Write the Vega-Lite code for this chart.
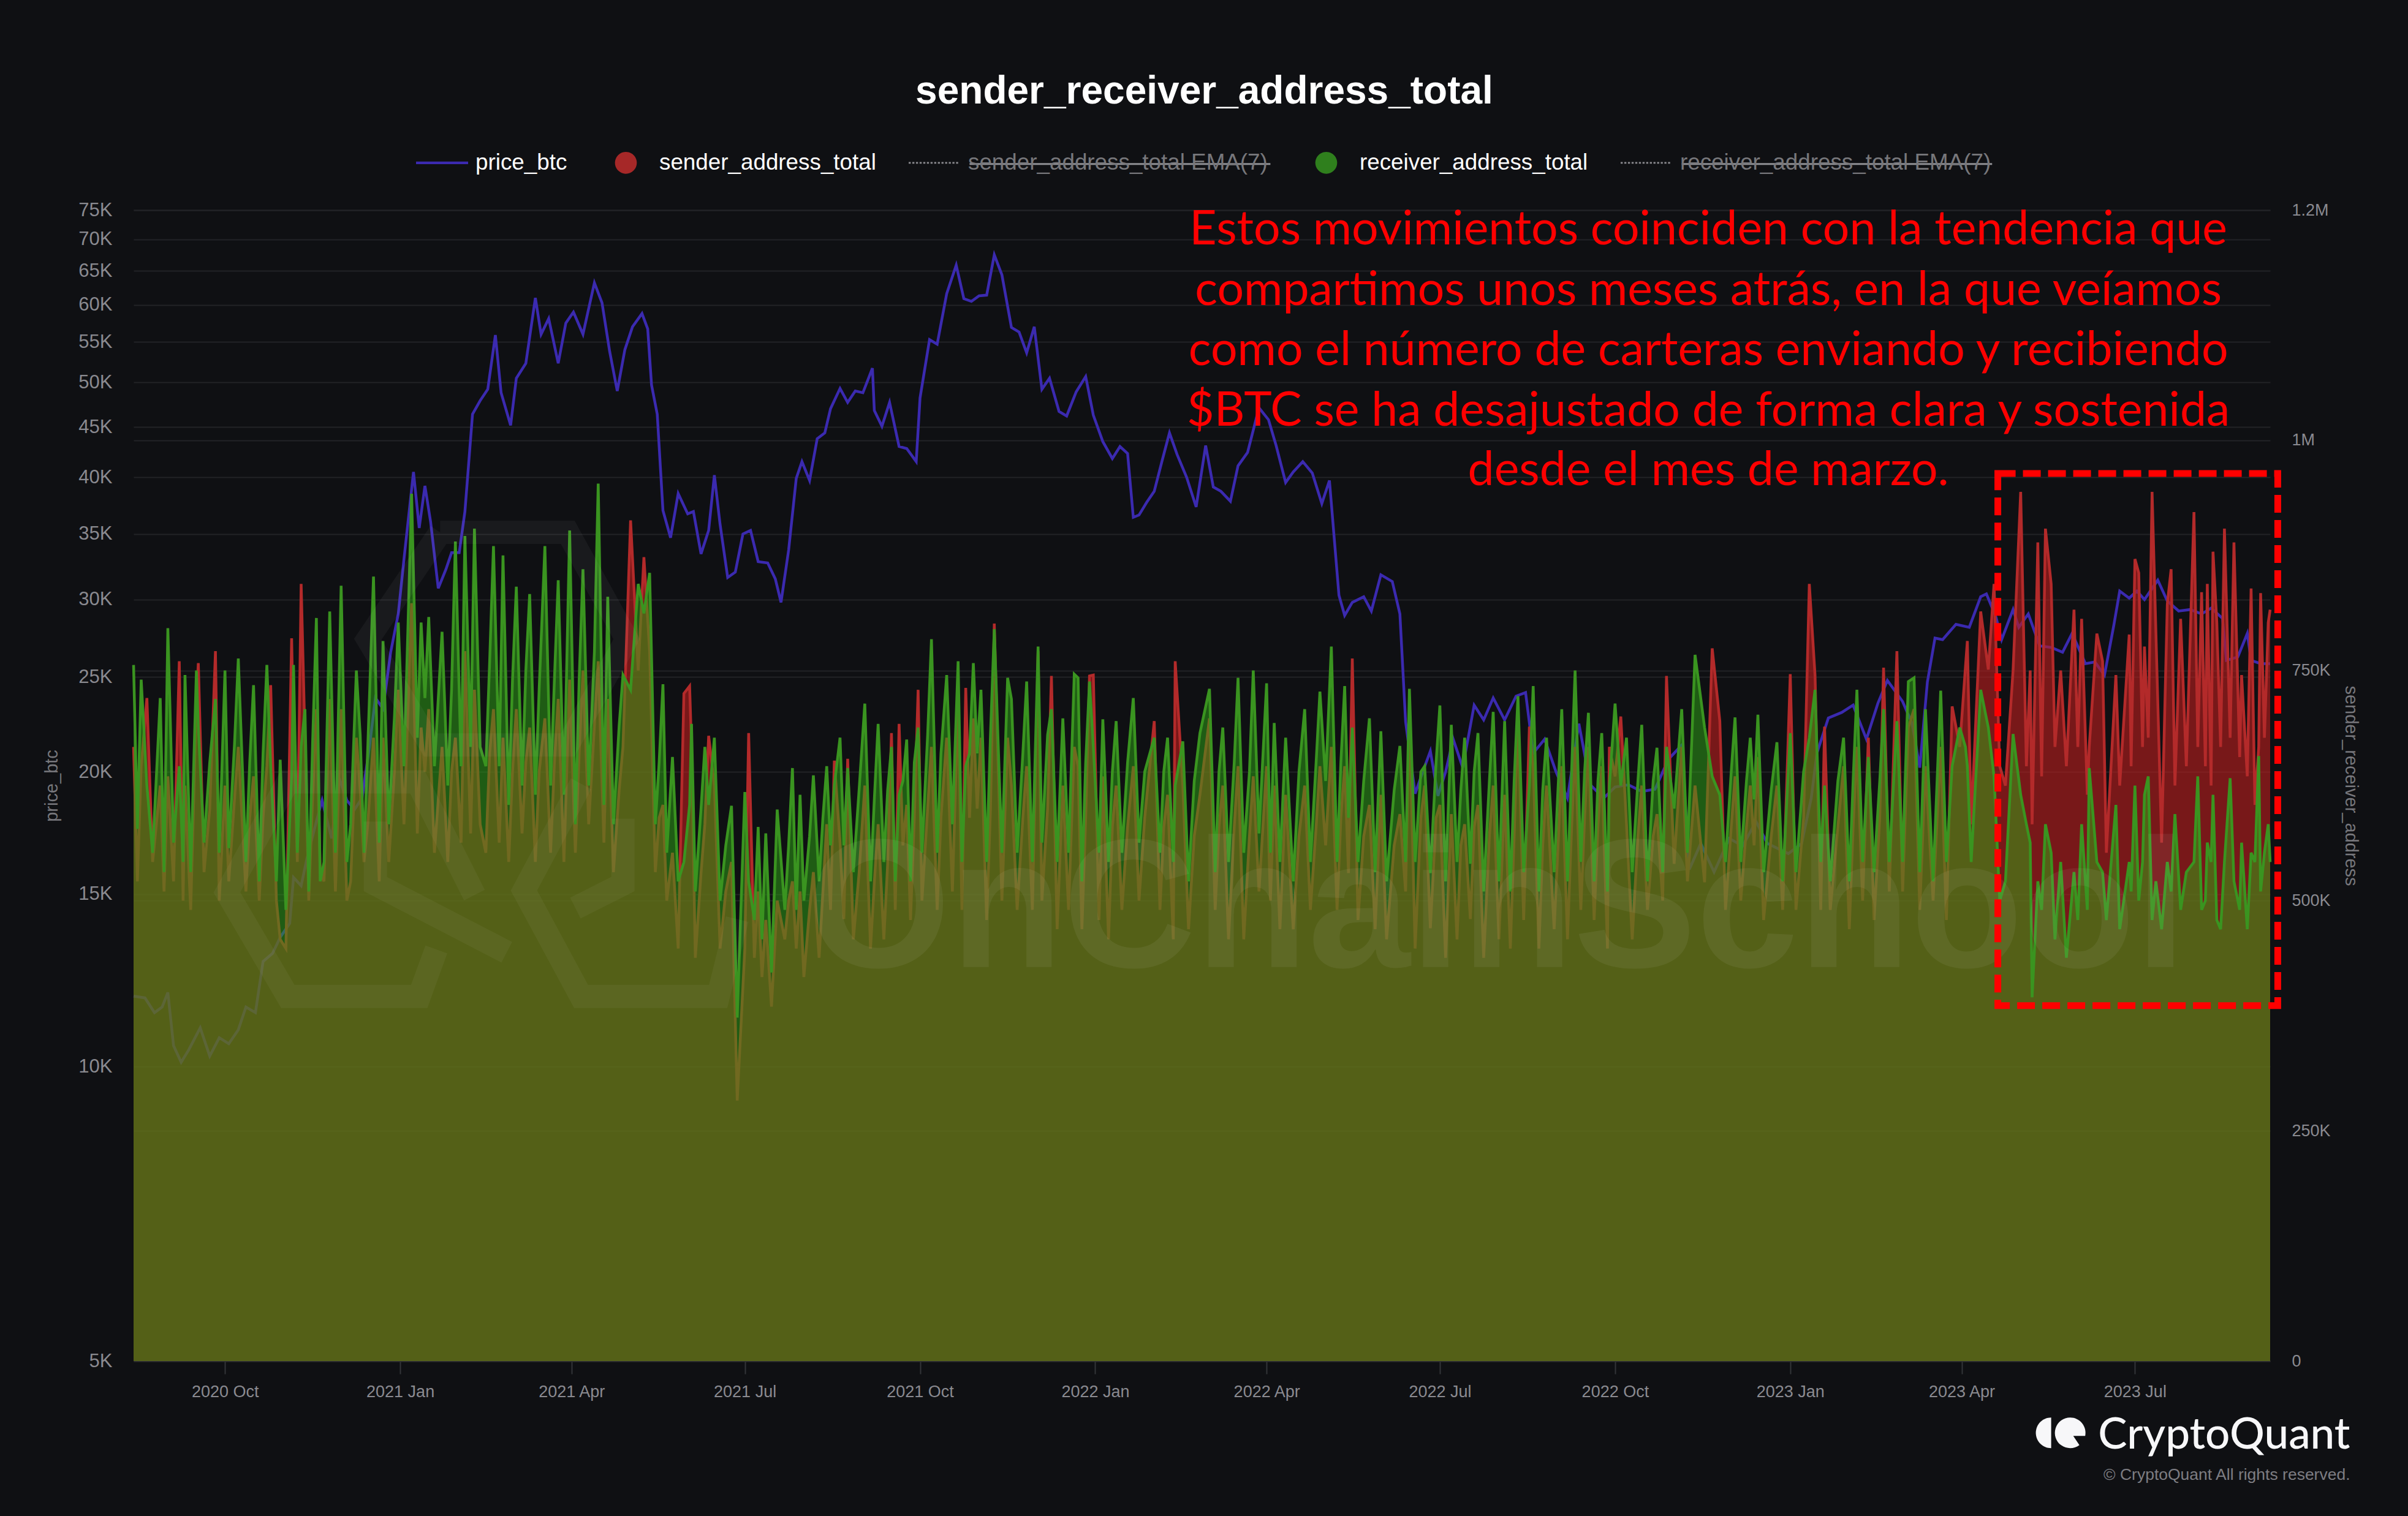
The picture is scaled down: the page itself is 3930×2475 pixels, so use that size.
{"$schema":"https://vega.github.io/schema/vega-lite/v6.json","width":3487,"height":1879,"autosize":"none","padding":{"left":218,"top":343,"right":225,"bottom":253},"background":"#0f1013",
"title":{"text":"sender_receiver_address_total","color":"#ffffff","fontSize":64,"font":"Liberation Sans","fontWeight":"bold","anchor":"middle","offset":41,"dx":4},
"config":{"view":{"stroke":null},"axis":{"labelFont":"Liberation Sans","titleFont":"Liberation Sans"}},
"datasets":{
"price":[{"d":"2020-08-14","p":11800},{"d":"2020-08-20","p":11750},{"d":"2020-08-25","p":11350},{"d":"2020-08-29","p":11500},{"d":"2020-09-01","p":11900},{"d":"2020-09-04","p":10500},{"d":"2020-09-08","p":10100},{"d":"2020-09-12","p":10400},{"d":"2020-09-18","p":10950},{"d":"2020-09-23","p":10250},{"d":"2020-09-28","p":10700},{"d":"2020-10-03","p":10550},{"d":"2020-10-08","p":10900},{"d":"2020-10-12","p":11500},{"d":"2020-10-17","p":11350},{"d":"2020-10-21","p":12800},{"d":"2020-10-26","p":13050},{"d":"2020-10-30","p":13550},{"d":"2020-11-04","p":14000},{"d":"2020-11-06","p":15600},{"d":"2020-11-10","p":15300},{"d":"2020-11-13","p":16300},{"d":"2020-11-18","p":17800},{"d":"2020-11-21","p":18700},{"d":"2020-11-26","p":17100},{"d":"2020-11-30","p":19700},{"d":"2020-12-04","p":18700},{"d":"2020-12-08","p":18300},{"d":"2020-12-12","p":18800},{"d":"2020-12-16","p":21300},{"d":"2020-12-19","p":23800},{"d":"2020-12-23","p":23200},{"d":"2020-12-27","p":26500},{"d":"2020-12-31","p":29000},{"d":"2021-01-03","p":33000},{"d":"2021-01-08","p":40500},{"d":"2021-01-11","p":35500},{"d":"2021-01-14","p":39200},{"d":"2021-01-17","p":36000},{"d":"2021-01-21","p":30800},{"d":"2021-01-25","p":32200},{"d":"2021-01-28","p":33500},{"d":"2021-02-01","p":33500},{"d":"2021-02-04","p":36900},{"d":"2021-02-08","p":46400},{"d":"2021-02-12","p":47900},{"d":"2021-02-16","p":49200},{"d":"2021-02-20","p":55900},{"d":"2021-02-23","p":48800},{"d":"2021-02-28","p":45200},{"d":"2021-03-03","p":50500},{"d":"2021-03-08","p":52300},{"d":"2021-03-13","p":61000},{"d":"2021-03-16","p":56000},{"d":"2021-03-20","p":58100},{"d":"2021-03-25","p":52300},{"d":"2021-03-29","p":57500},{"d":"2021-04-02","p":59000},{"d":"2021-04-07","p":56000},{"d":"2021-04-13","p":63200},{"d":"2021-04-17","p":60300},{"d":"2021-04-21","p":53800},{"d":"2021-04-25","p":49000},{"d":"2021-04-29","p":54000},{"d":"2021-05-03","p":57000},{"d":"2021-05-08","p":58800},{"d":"2021-05-11","p":56700},{"d":"2021-05-13","p":49700},{"d":"2021-05-16","p":46400},{"d":"2021-05-19","p":37000},{"d":"2021-05-23","p":34700},{"d":"2021-05-27","p":38500},{"d":"2021-06-01","p":36700},{"d":"2021-06-04","p":36900},{"d":"2021-06-08","p":33400},{"d":"2021-06-12","p":35300},{"d":"2021-06-15","p":40200},{"d":"2021-06-18","p":35800},{"d":"2021-06-22","p":31600},{"d":"2021-06-26","p":32000},{"d":"2021-06-30","p":35000},{"d":"2021-07-04","p":35300},{"d":"2021-07-08","p":32800},{"d":"2021-07-13","p":32700},{"d":"2021-07-17","p":31500},{"d":"2021-07-20","p":29800},{"d":"2021-07-24","p":33700},{"d":"2021-07-28","p":39900},{"d":"2021-07-31","p":41500},{"d":"2021-08-04","p":39700},{"d":"2021-08-08","p":43800},{"d":"2021-08-12","p":44400},{"d":"2021-08-15","p":47000},{"d":"2021-08-20","p":49300},{"d":"2021-08-24","p":47700},{"d":"2021-08-28","p":49000},{"d":"2021-09-01","p":48800},{"d":"2021-09-06","p":51700},{"d":"2021-09-07","p":46800},{"d":"2021-09-11","p":45100},{"d":"2021-09-15","p":47700},{"d":"2021-09-20","p":43000},{"d":"2021-09-24","p":42800},{"d":"2021-09-29","p":41500},{"d":"2021-10-01","p":48200},{"d":"2021-10-06","p":55300},{"d":"2021-10-10","p":54700},{"d":"2021-10-15","p":61600},{"d":"2021-10-20","p":65900},{"d":"2021-10-24","p":60900},{"d":"2021-10-28","p":60500},{"d":"2021-11-01","p":61300},{"d":"2021-11-05","p":61400},{"d":"2021-11-09","p":67500},{"d":"2021-11-13","p":64400},{"d":"2021-11-18","p":56900},{"d":"2021-11-22","p":56300},{"d":"2021-11-26","p":53600},{"d":"2021-11-30","p":57000},{"d":"2021-12-04","p":49200},{"d":"2021-12-08","p":50500},{"d":"2021-12-13","p":46700},{"d":"2021-12-17","p":46200},{"d":"2021-12-22","p":48900},{"d":"2021-12-27","p":50700},{"d":"2021-12-31","p":46300},{"d":"2022-01-05","p":43500},{"d":"2022-01-10","p":41800},{"d":"2022-01-14","p":43000},{"d":"2022-01-18","p":42300},{"d":"2022-01-21","p":36400},{"d":"2022-01-24","p":36600},{"d":"2022-01-28","p":37700},{"d":"2022-02-01","p":38700},{"d":"2022-02-05","p":41500},{"d":"2022-02-09","p":44400},{"d":"2022-02-13","p":42200},{"d":"2022-02-18","p":40000},{"d":"2022-02-23","p":37300},{"d":"2022-02-28","p":43100},{"d":"2022-03-04","p":39100},{"d":"2022-03-08","p":38700},{"d":"2022-03-13","p":37800},{"d":"2022-03-17","p":41100},{"d":"2022-03-22","p":42400},{"d":"2022-03-28","p":47100},{"d":"2022-04-02","p":45800},{"d":"2022-04-06","p":43100},{"d":"2022-04-11","p":39500},{"d":"2022-04-15","p":40500},{"d":"2022-04-20","p":41500},{"d":"2022-04-25","p":40400},{"d":"2022-04-30","p":37600},{"d":"2022-05-04","p":39700},{"d":"2022-05-09","p":30300},{"d":"2022-05-12","p":28900},{"d":"2022-05-16","p":29800},{"d":"2022-05-22","p":30200},{"d":"2022-05-26","p":29200},{"d":"2022-05-31","p":31800},{"d":"2022-06-06","p":31300},{"d":"2022-06-10","p":29000},{"d":"2022-06-13","p":22500},{"d":"2022-06-18","p":19000},{"d":"2022-06-22","p":20000},{"d":"2022-06-26","p":21000},{"d":"2022-06-30","p":18900},{"d":"2022-07-04","p":20000},{"d":"2022-07-08","p":21600},{"d":"2022-07-13","p":20200},{"d":"2022-07-19","p":23400},{"d":"2022-07-24","p":22600},{"d":"2022-07-29","p":23800},{"d":"2022-08-04","p":22600},{"d":"2022-08-10","p":23900},{"d":"2022-08-15","p":24100},{"d":"2022-08-19","p":20900},{"d":"2022-08-25","p":21600},{"d":"2022-08-31","p":20000},{"d":"2022-09-06","p":18800},{"d":"2022-09-12","p":22400},{"d":"2022-09-18","p":19400},{"d":"2022-09-25","p":18800},{"d":"2022-10-01","p":19300},{"d":"2022-10-08","p":19400},{"d":"2022-10-15","p":19100},{"d":"2022-10-22","p":19200},{"d":"2022-10-29","p":20600},{"d":"2022-11-05","p":21300},{"d":"2022-11-09","p":15900},{"d":"2022-11-15","p":16900},{"d":"2022-11-22","p":15800},{"d":"2022-11-30","p":17100},{"d":"2022-12-07","p":16800},{"d":"2022-12-14","p":17800},{"d":"2022-12-20","p":16900},{"d":"2022-12-31","p":16500},{"d":"2023-01-07","p":16900},{"d":"2023-01-12","p":18800},{"d":"2023-01-15","p":20900},{"d":"2023-01-21","p":22700},{"d":"2023-01-28","p":23000},{"d":"2023-02-03","p":23400},{"d":"2023-02-10","p":21600},{"d":"2023-02-16","p":23500},{"d":"2023-02-21","p":24800},{"d":"2023-03-01","p":23600},{"d":"2023-03-06","p":22400},{"d":"2023-03-10","p":20200},{"d":"2023-03-14","p":24700},{"d":"2023-03-18","p":27400},{"d":"2023-03-22","p":27300},{"d":"2023-03-29","p":28300},{"d":"2023-04-05","p":28100},{"d":"2023-04-11","p":30200},{"d":"2023-04-14","p":30400},{"d":"2023-04-19","p":28800},{"d":"2023-04-22","p":27300},{"d":"2023-04-28","p":29300},{"d":"2023-05-01","p":28100},{"d":"2023-05-06","p":29000},{"d":"2023-05-12","p":26900},{"d":"2023-05-18","p":26800},{"d":"2023-05-24","p":26500},{"d":"2023-05-29","p":27700},{"d":"2023-06-05","p":25800},{"d":"2023-06-10","p":25900},{"d":"2023-06-15","p":25100},{"d":"2023-06-20","p":28300},{"d":"2023-06-23","p":30600},{"d":"2023-06-28","p":30100},{"d":"2023-07-02","p":30600},{"d":"2023-07-06","p":30000},{"d":"2023-07-13","p":31400},{"d":"2023-07-18","p":29900},{"d":"2023-07-24","p":29200},{"d":"2023-07-30","p":29300},{"d":"2023-08-05","p":29000},{"d":"2023-08-10","p":29400},{"d":"2023-08-16","p":28700},{"d":"2023-08-18","p":26000},{"d":"2023-08-24","p":26200},{"d":"2023-08-29","p":27700},{"d":"2023-08-31","p":26000},{"d":"2023-09-05","p":25800},{"d":"2023-09-10","p":25800}],
"addresses":[{"d":"2020-08-14","s":667000,"r":756000},{"d":"2020-08-16","s":521000,"r":578000},{"d":"2020-08-18","s":646000,"r":740000},{"d":"2020-08-21","s":720000,"r":625000},{"d":"2020-08-24","s":542000,"r":552000},{"d":"2020-08-28","s":625000,"r":720000},{"d":"2020-08-30","s":510000,"r":531000},{"d":"2020-09-01","s":635000,"r":796000},{"d":"2020-09-04","s":521000,"r":563000},{"d":"2020-09-07","s":760000,"r":646000},{"d":"2020-09-09","s":500000,"r":542000},{"d":"2020-09-10","s":625000,"r":745000},{"d":"2020-09-13","s":490000,"r":531000},{"d":"2020-09-16","s":719000,"r":750000},{"d":"2020-09-17","s":758000,"r":688000},{"d":"2020-09-20","s":531000,"r":563000},{"d":"2020-09-23","s":600000,"r":650000},{"d":"2020-09-26","s":771000,"r":719000},{"d":"2020-09-28","s":500000,"r":552000},{"d":"2020-10-01","s":625000,"r":750000},{"d":"2020-10-03","s":521000,"r":557000},{"d":"2020-10-06","s":610000,"r":670000},{"d":"2020-10-08","s":667000,"r":763000},{"d":"2020-10-12","s":510000,"r":542000},{"d":"2020-10-14","s":590000,"r":650000},{"d":"2020-10-16","s":635000,"r":734000},{"d":"2020-10-19","s":500000,"r":521000},{"d":"2020-10-21","s":590000,"r":660000},{"d":"2020-10-23","s":646000,"r":756000},{"d":"2020-10-25","s":734000,"r":646000},{"d":"2020-10-28","s":500000,"r":521000},{"d":"2020-10-30","s":458000,"r":653000},{"d":"2020-11-02","s":448000,"r":490000},{"d":"2020-11-05","s":785000,"r":635000},{"d":"2020-11-06","s":677000,"r":756000},{"d":"2020-11-08","s":542000,"r":552000},{"d":"2020-11-10","s":844000,"r":667000},{"d":"2020-11-12","s":677000,"r":708000},{"d":"2020-11-14","s":500000,"r":510000},{"d":"2020-11-16","s":610000,"r":670000},{"d":"2020-11-18","s":708000,"r":807000},{"d":"2020-11-20","s":531000,"r":521000},{"d":"2020-11-22","s":521000,"r":542000},{"d":"2020-11-25","s":719000,"r":814000},{"d":"2020-11-28","s":510000,"r":552000},{"d":"2020-12-01","s":708000,"r":842000},{"d":"2020-12-04","s":500000,"r":542000},{"d":"2020-12-06","s":521000,"r":583000},{"d":"2020-12-09","s":677000,"r":750000},{"d":"2020-12-11","s":620000,"r":680000},{"d":"2020-12-13","s":542000,"r":552000},{"d":"2020-12-15","s":583000,"r":667000},{"d":"2020-12-18","s":677000,"r":852000},{"d":"2020-12-21","s":521000,"r":563000},{"d":"2020-12-23","s":677000,"r":782000},{"d":"2020-12-26","s":542000,"r":583000},{"d":"2020-12-29","s":640000,"r":700000},{"d":"2020-12-31","s":729000,"r":802000},{"d":"2021-01-03","s":583000,"r":646000},{"d":"2021-01-05","s":700000,"r":790000},{"d":"2021-01-07","s":823000,"r":942000},{"d":"2021-01-10","s":573000,"r":677000},{"d":"2021-01-12","s":688000,"r":802000},{"d":"2021-01-14","s":640000,"r":720000},{"d":"2021-01-16","s":708000,"r":808000},{"d":"2021-01-19","s":552000,"r":646000},{"d":"2021-01-23","s":667000,"r":792000},{"d":"2021-01-26","s":542000,"r":625000},{"d":"2021-01-28","s":640000,"r":730000},{"d":"2021-01-30","s":677000,"r":890000},{"d":"2021-02-02","s":563000,"r":646000},{"d":"2021-02-04","s":771000,"r":896000},{"d":"2021-02-07","s":573000,"r":667000},{"d":"2021-02-09","s":729000,"r":904000},{"d":"2021-02-12","s":583000,"r":667000},{"d":"2021-02-15","s":552000,"r":646000},{"d":"2021-02-17","s":660000,"r":760000},{"d":"2021-02-19","s":708000,"r":885000},{"d":"2021-02-22","s":563000,"r":646000},{"d":"2021-02-24","s":677000,"r":875000},{"d":"2021-02-27","s":542000,"r":604000},{"d":"2021-03-01","s":640000,"r":740000},{"d":"2021-03-03","s":708000,"r":841000},{"d":"2021-03-06","s":573000,"r":625000},{"d":"2021-03-08","s":650000,"r":750000},{"d":"2021-03-10","s":688000,"r":833000},{"d":"2021-03-13","s":542000,"r":615000},{"d":"2021-03-15","s":640000,"r":730000},{"d":"2021-03-18","s":698000,"r":885000},{"d":"2021-03-21","s":552000,"r":625000},{"d":"2021-03-23","s":650000,"r":740000},{"d":"2021-03-25","s":719000,"r":848000},{"d":"2021-03-28","s":542000,"r":615000},{"d":"2021-03-31","s":740000,"r":902000},{"d":"2021-04-03","s":552000,"r":583000},{"d":"2021-04-05","s":660000,"r":740000},{"d":"2021-04-07","s":750000,"r":860000},{"d":"2021-04-10","s":583000,"r":625000},{"d":"2021-04-13","s":690000,"r":770000},{"d":"2021-04-15","s":760000,"r":953000},{"d":"2021-04-18","s":563000,"r":604000},{"d":"2021-04-20","s":719000,"r":830000},{"d":"2021-04-23","s":531000,"r":583000},{"d":"2021-04-26","s":620000,"r":690000},{"d":"2021-04-28","s":667000,"r":745000},{"d":"2021-05-02","s":913000,"r":729000},{"d":"2021-05-06","s":750000,"r":844000},{"d":"2021-05-09","s":873000,"r":812000},{"d":"2021-05-12","s":771000,"r":856000},{"d":"2021-05-15","s":531000,"r":583000},{"d":"2021-05-17","s":590000,"r":650000},{"d":"2021-05-19","s":604000,"r":735000},{"d":"2021-05-21","s":500000,"r":552000},{"d":"2021-05-24","s":552000,"r":656000},{"d":"2021-05-27","s":448000,"r":521000},{"d":"2021-05-30","s":725000,"r":542000},{"d":"2021-06-02","s":733000,"r":604000},{"d":"2021-06-03","s":667000,"r":692000},{"d":"2021-06-05","s":438000,"r":510000},{"d":"2021-06-08","s":530000,"r":600000},{"d":"2021-06-10","s":583000,"r":667000},{"d":"2021-06-12","s":679000,"r":604000},{"d":"2021-06-15","s":625000,"r":677000},{"d":"2021-06-18","s":448000,"r":500000},{"d":"2021-06-21","s":510000,"r":560000},{"d":"2021-06-24","s":542000,"r":603000},{"d":"2021-06-27","s":283000,"r":373000},{"d":"2021-07-01","s":448000,"r":618000},{"d":"2021-07-03","s":682000,"r":521000},{"d":"2021-07-06","s":438000,"r":479000},{"d":"2021-07-08","s":510000,"r":580000},{"d":"2021-07-10","s":417000,"r":458000},{"d":"2021-07-12","s":479000,"r":573000},{"d":"2021-07-15","s":385000,"r":422000},{"d":"2021-07-18","s":500000,"r":599000},{"d":"2021-07-22","s":458000,"r":490000},{"d":"2021-07-24","s":500000,"r":560000},{"d":"2021-07-26","s":521000,"r":644000},{"d":"2021-07-28","s":448000,"r":490000},{"d":"2021-07-30","s":510000,"r":615000},{"d":"2021-08-01","s":417000,"r":500000},{"d":"2021-08-04","s":490000,"r":570000},{"d":"2021-08-06","s":531000,"r":636000},{"d":"2021-08-09","s":438000,"r":521000},{"d":"2021-08-11","s":510000,"r":590000},{"d":"2021-08-13","s":583000,"r":646000},{"d":"2021-08-15","s":490000,"r":560000},{"d":"2021-08-17","s":652000,"r":625000},{"d":"2021-08-20","s":563000,"r":677000},{"d":"2021-08-22","s":480000,"r":560000},{"d":"2021-08-24","s":654000,"r":644000},{"d":"2021-08-27","s":458000,"r":531000},{"d":"2021-08-30","s":530000,"r":620000},{"d":"2021-09-02","s":625000,"r":714000},{"d":"2021-09-05","s":448000,"r":521000},{"d":"2021-09-07","s":520000,"r":610000},{"d":"2021-09-09","s":583000,"r":692000},{"d":"2021-09-12","s":458000,"r":542000},{"d":"2021-09-14","s":540000,"r":620000},{"d":"2021-09-16","s":682000,"r":667000},{"d":"2021-09-18","s":490000,"r":521000},{"d":"2021-09-20","s":692000,"r":615000},{"d":"2021-09-22","s":560000,"r":630000},{"d":"2021-09-24","s":604000,"r":675000},{"d":"2021-09-26","s":479000,"r":521000},{"d":"2021-09-28","s":590000,"r":650000},{"d":"2021-09-30","s":729000,"r":688000},{"d":"2021-10-02","s":500000,"r":552000},{"d":"2021-10-05","s":600000,"r":680000},{"d":"2021-10-07","s":667000,"r":784000},{"d":"2021-10-10","s":490000,"r":552000},{"d":"2021-10-12","s":590000,"r":660000},{"d":"2021-10-15","s":677000,"r":745000},{"d":"2021-10-18","s":510000,"r":583000},{"d":"2021-10-21","s":719000,"r":760000},{"d":"2021-10-23","s":490000,"r":542000},{"d":"2021-10-25","s":731000,"r":646000},{"d":"2021-10-27","s":590000,"r":660000},{"d":"2021-10-29","s":698000,"r":758000},{"d":"2021-10-31","s":600000,"r":660000},{"d":"2021-11-02","s":677000,"r":729000},{"d":"2021-11-05","s":479000,"r":542000},{"d":"2021-11-07","s":600000,"r":680000},{"d":"2021-11-09","s":801000,"r":795000},{"d":"2021-11-13","s":500000,"r":552000},{"d":"2021-11-16","s":677000,"r":742000},{"d":"2021-11-18","s":625000,"r":719000},{"d":"2021-11-21","s":490000,"r":552000},{"d":"2021-11-24","s":590000,"r":660000},{"d":"2021-11-26","s":646000,"r":738000},{"d":"2021-11-29","s":490000,"r":542000},{"d":"2021-12-02","s":771000,"r":776000},{"d":"2021-12-04","s":500000,"r":563000},{"d":"2021-12-07","s":600000,"r":680000},{"d":"2021-12-09","s":744000,"r":708000},{"d":"2021-12-12","s":469000,"r":542000},{"d":"2021-12-15","s":625000,"r":698000},{"d":"2021-12-18","s":490000,"r":552000},{"d":"2021-12-21","s":667000,"r":746000},{"d":"2021-12-23","s":646000,"r":742000},{"d":"2021-12-25","s":469000,"r":521000},{"d":"2021-12-27","s":590000,"r":650000},{"d":"2021-12-29","s":744000,"r":738000},{"d":"2021-12-31","s":745000,"r":667000},{"d":"2022-01-03","s":479000,"r":552000},{"d":"2022-01-05","s":635000,"r":697000},{"d":"2022-01-08","s":458000,"r":542000},{"d":"2022-01-10","s":580000,"r":640000},{"d":"2022-01-12","s":625000,"r":695000},{"d":"2022-01-15","s":490000,"r":552000},{"d":"2022-01-18","s":580000,"r":650000},{"d":"2022-01-21","s":646000,"r":720000},{"d":"2022-01-24","s":500000,"r":563000},{"d":"2022-01-27","s":590000,"r":640000},{"d":"2022-02-01","s":695000,"r":677000},{"d":"2022-02-04","s":490000,"r":552000},{"d":"2022-02-06","s":580000,"r":640000},{"d":"2022-02-08","s":615000,"r":677000},{"d":"2022-02-11","s":458000,"r":542000},{"d":"2022-02-12","s":760000,"r":625000},{"d":"2022-02-16","s":625000,"r":673000},{"d":"2022-02-19","s":469000,"r":521000},{"d":"2022-02-22","s":570000,"r":630000},{"d":"2022-02-25","s":615000,"r":682000},{"d":"2022-03-02","s":698000,"r":730000},{"d":"2022-03-05","s":490000,"r":531000},{"d":"2022-03-07","s":580000,"r":640000},{"d":"2022-03-09","s":625000,"r":688000},{"d":"2022-03-12","s":458000,"r":542000},{"d":"2022-03-15","s":580000,"r":650000},{"d":"2022-03-17","s":646000,"r":742000},{"d":"2022-03-20","s":458000,"r":552000},{"d":"2022-03-23","s":570000,"r":640000},{"d":"2022-03-25","s":635000,"r":750000},{"d":"2022-03-28","s":510000,"r":573000},{"d":"2022-04-01","s":646000,"r":736000},{"d":"2022-04-03","s":500000,"r":552000},{"d":"2022-04-05","s":625000,"r":693000},{"d":"2022-04-08","s":469000,"r":542000},{"d":"2022-04-11","s":615000,"r":677000},{"d":"2022-04-15","s":469000,"r":521000},{"d":"2022-04-18","s":570000,"r":640000},{"d":"2022-04-21","s":625000,"r":708000},{"d":"2022-04-24","s":490000,"r":542000},{"d":"2022-04-27","s":580000,"r":650000},{"d":"2022-04-29","s":646000,"r":727000},{"d":"2022-05-02","s":560000,"r":630000},{"d":"2022-05-05","s":667000,"r":776000},{"d":"2022-05-08","s":490000,"r":542000},{"d":"2022-05-10","s":590000,"r":650000},{"d":"2022-05-12","s":646000,"r":733000},{"d":"2022-05-14","s":530000,"r":590000},{"d":"2022-05-16","s":763000,"r":688000},{"d":"2022-05-19","s":479000,"r":542000},{"d":"2022-05-22","s":570000,"r":630000},{"d":"2022-05-25","s":604000,"r":698000},{"d":"2022-05-28","s":469000,"r":531000},{"d":"2022-05-31","s":615000,"r":684000},{"d":"2022-06-03","s":458000,"r":521000},{"d":"2022-06-07","s":560000,"r":620000},{"d":"2022-06-10","s":594000,"r":668000},{"d":"2022-06-13","s":510000,"r":542000},{"d":"2022-06-15","s":708000,"r":730000},{"d":"2022-06-18","s":448000,"r":542000},{"d":"2022-06-21","s":590000,"r":640000},{"d":"2022-06-23","s":625000,"r":646000},{"d":"2022-06-26","s":470000,"r":530000},{"d":"2022-06-29","s":590000,"r":650000},{"d":"2022-07-01","s":604000,"r":712000},{"d":"2022-07-04","s":438000,"r":521000},{"d":"2022-07-07","s":594000,"r":691000},{"d":"2022-07-10","s":458000,"r":542000},{"d":"2022-07-12","s":560000,"r":620000},{"d":"2022-07-14","s":583000,"r":677000},{"d":"2022-07-17","s":480000,"r":540000},{"d":"2022-07-19","s":580000,"r":640000},{"d":"2022-07-21","s":604000,"r":682000},{"d":"2022-07-24","s":438000,"r":510000},{"d":"2022-07-27","s":570000,"r":630000},{"d":"2022-07-29","s":625000,"r":705000},{"d":"2022-08-01","s":458000,"r":521000},{"d":"2022-08-04","s":615000,"r":695000},{"d":"2022-08-07","s":448000,"r":510000},{"d":"2022-08-09","s":570000,"r":630000},{"d":"2022-08-11","s":698000,"r":722000},{"d":"2022-08-14","s":479000,"r":531000},{"d":"2022-08-17","s":689000,"r":625000},{"d":"2022-08-19","s":646000,"r":733000},{"d":"2022-08-22","s":448000,"r":510000},{"d":"2022-08-24","s":560000,"r":620000},{"d":"2022-08-26","s":625000,"r":677000},{"d":"2022-08-30","s":469000,"r":531000},{"d":"2022-09-03","s":646000,"r":708000},{"d":"2022-09-06","s":458000,"r":521000},{"d":"2022-09-08","s":570000,"r":630000},{"d":"2022-09-10","s":667000,"r":750000},{"d":"2022-09-13","s":490000,"r":542000},{"d":"2022-09-15","s":590000,"r":640000},{"d":"2022-09-17","s":667000,"r":704000},{"d":"2022-09-20","s":479000,"r":521000},{"d":"2022-09-22","s":580000,"r":630000},{"d":"2022-09-24","s":646000,"r":682000},{"d":"2022-09-27","s":448000,"r":510000},{"d":"2022-09-28","s":667000,"r":625000},{"d":"2022-10-01","s":635000,"r":714000},{"d":"2022-10-04","s":700000,"r":625000},{"d":"2022-10-07","s":583000,"r":677000},{"d":"2022-10-10","s":458000,"r":531000},{"d":"2022-10-13","s":570000,"r":630000},{"d":"2022-10-15","s":625000,"r":691000},{"d":"2022-10-18","s":490000,"r":521000},{"d":"2022-10-21","s":570000,"r":630000},{"d":"2022-10-23","s":594000,"r":666000},{"d":"2022-10-26","s":500000,"r":531000},{"d":"2022-10-28","s":744000,"r":667000},{"d":"2022-11-01","s":540000,"r":600000},{"d":"2022-11-05","s":667000,"r":708000},{"d":"2022-11-08","s":521000,"r":552000},{"d":"2022-11-12","s":625000,"r":767000},{"d":"2022-11-17","s":520000,"r":688000},{"d":"2022-11-21","s":774000,"r":635000},{"d":"2022-11-25","s":695000,"r":615000},{"d":"2022-11-28","s":490000,"r":542000},{"d":"2022-12-01","s":580000,"r":640000},{"d":"2022-12-03","s":635000,"r":699000},{"d":"2022-12-06","s":500000,"r":542000},{"d":"2022-12-09","s":580000,"r":630000},{"d":"2022-12-11","s":625000,"r":677000},{"d":"2022-12-13","s":560000,"r":610000},{"d":"2022-12-15","s":656000,"r":702000},{"d":"2022-12-18","s":479000,"r":531000},{"d":"2022-12-22","s":570000,"r":620000},{"d":"2022-12-25","s":625000,"r":672000},{"d":"2022-12-28","s":490000,"r":521000},{"d":"2023-01-01","s":746000,"r":682000},{"d":"2023-01-04","s":490000,"r":531000},{"d":"2023-01-08","s":590000,"r":640000},{"d":"2023-01-11","s":844000,"r":677000},{"d":"2023-01-14","s":745000,"r":729000},{"d":"2023-01-17","s":490000,"r":542000},{"d":"2023-01-19","s":689000,"r":625000},{"d":"2023-01-22","s":490000,"r":521000},{"d":"2023-01-26","s":580000,"r":630000},{"d":"2023-01-29","s":646000,"r":677000},{"d":"2023-02-01","s":469000,"r":521000},{"d":"2023-02-03","s":580000,"r":630000},{"d":"2023-02-05","s":667000,"r":729000},{"d":"2023-02-08","s":500000,"r":542000},{"d":"2023-02-11","s":677000,"r":656000},{"d":"2023-02-14","s":479000,"r":531000},{"d":"2023-02-17","s":590000,"r":630000},{"d":"2023-02-19","s":753000,"r":708000},{"d":"2023-02-22","s":510000,"r":542000},{"d":"2023-02-26","s":771000,"r":695000},{"d":"2023-03-01","s":510000,"r":542000},{"d":"2023-03-04","s":688000,"r":738000},{"d":"2023-03-07","s":708000,"r":742000},{"d":"2023-03-10","s":490000,"r":531000},{"d":"2023-03-13","s":646000,"r":708000},{"d":"2023-03-17","s":500000,"r":521000},{"d":"2023-03-21","s":667000,"r":728000},{"d":"2023-03-24","s":479000,"r":542000},{"d":"2023-03-27","s":711000,"r":646000},{"d":"2023-03-31","s":667000,"r":688000},{"d":"2023-04-03","s":754000,"r":667000},{"d":"2023-04-04","s":782000,"r":646000},{"d":"2023-04-06","s":583000,"r":542000},{"d":"2023-04-11","s":814000,"r":729000},{"d":"2023-04-15","s":751000,"r":688000},{"d":"2023-04-18","s":844000,"r":635000},{"d":"2023-04-21","s":646000,"r":500000},{"d":"2023-04-24","s":625000,"r":521000},{"d":"2023-04-28","s":750000,"r":681000},{"d":"2023-05-02","s":944000,"r":615000},{"d":"2023-05-05","s":646000,"r":583000},{"d":"2023-05-07","s":750000,"r":563000},{"d":"2023-05-08","s":583000,"r":395000},{"d":"2023-05-11","s":889000,"r":521000},{"d":"2023-05-13","s":635000,"r":490000},{"d":"2023-05-15","s":904000,"r":583000},{"d":"2023-05-18","s":844000,"r":552000},{"d":"2023-05-20","s":667000,"r":458000},{"d":"2023-05-23","s":750000,"r":542000},{"d":"2023-05-26","s":646000,"r":438000},{"d":"2023-05-30","s":816000,"r":531000},{"d":"2023-06-01","s":667000,"r":479000},{"d":"2023-06-03","s":806000,"r":583000},{"d":"2023-06-06","s":615000,"r":490000},{"d":"2023-06-07","s":667000,"r":644000},{"d":"2023-06-11","s":790000,"r":542000},{"d":"2023-06-14","s":760000,"r":531000},{"d":"2023-06-16","s":552000,"r":479000},{"d":"2023-06-21","s":745000,"r":604000},{"d":"2023-06-23","s":625000,"r":469000},{"d":"2023-06-28","s":789000,"r":542000},{"d":"2023-06-29","s":646000,"r":510000},{"d":"2023-07-01","s":871000,"r":625000},{"d":"2023-07-03","s":856000,"r":500000},{"d":"2023-07-05","s":667000,"r":542000},{"d":"2023-07-06","s":776000,"r":615000},{"d":"2023-07-08","s":677000,"r":635000},{"d":"2023-07-10","s":944000,"r":479000},{"d":"2023-07-12","s":792000,"r":521000},{"d":"2023-07-15","s":563000,"r":469000},{"d":"2023-07-18","s":822000,"r":542000},{"d":"2023-07-20","s":860000,"r":510000},{"d":"2023-07-22","s":625000,"r":594000},{"d":"2023-07-25","s":806000,"r":490000},{"d":"2023-07-28","s":646000,"r":531000},{"d":"2023-08-01","s":922000,"r":542000},{"d":"2023-08-03","s":667000,"r":635000},{"d":"2023-08-05","s":835000,"r":490000},{"d":"2023-08-07","s":646000,"r":500000},{"d":"2023-08-08","s":844000,"r":563000},{"d":"2023-08-10","s":625000,"r":542000},{"d":"2023-08-11","s":879000,"r":615000},{"d":"2023-08-13","s":802000,"r":479000},{"d":"2023-08-15","s":667000,"r":469000},{"d":"2023-08-17","s":904000,"r":542000},{"d":"2023-08-20","s":677000,"r":633000},{"d":"2023-08-22","s":889000,"r":521000},{"d":"2023-08-25","s":656000,"r":490000},{"d":"2023-08-26","s":745000,"r":563000},{"d":"2023-08-29","s":635000,"r":469000},{"d":"2023-08-31","s":839000,"r":552000},{"d":"2023-09-02","s":604000,"r":542000},{"d":"2023-09-04","s":667000,"r":657000},{"d":"2023-09-05","s":834000,"r":510000},{"d":"2023-09-07","s":677000,"r":552000},{"d":"2023-09-09","s":802000,"r":583000},{"d":"2023-09-10","s":816000,"r":542000}],
"watermark":[{"g":"a","o":1,"d":"2021-01-22","v":900000},{"g":"a","o":2,"d":"2021-03-30","v":900000},{"g":"a","o":3,"d":"2021-04-30","v":784000},{"g":"a","o":4,"d":"2021-03-30","v":669000},{"g":"a","o":5,"d":"2021-01-17","v":669000},{"g":"a","o":6,"d":"2020-12-15","v":784000},{"g":"a","o":7,"d":"2021-01-22","v":900000},{"g":"b","o":1,"d":"2021-02-09","v":506000},{"g":"b","o":2,"d":"2021-01-10","v":629000},{"g":"b","o":3,"d":"2020-11-03","v":629000},{"g":"b","o":4,"d":"2020-10-02","v":509000},{"g":"b","o":5,"d":"2020-11-03","v":396000},{"g":"b","o":6,"d":"2021-01-11","v":396000},{"g":"b","o":7,"d":"2021-01-20","v":447000},{"g":"c","o":1,"d":"2020-12-19","v":586000},{"g":"c","o":2,"d":"2020-12-19","v":518000},{"g":"c","o":3,"d":"2021-02-26","v":444000},{"g":"e","o":1,"d":"2021-04-06","v":627000},{"g":"e","o":2,"d":"2021-03-07","v":511000},{"g":"e","o":3,"d":"2021-04-06","v":396000},{"g":"e","o":4,"d":"2021-06-17","v":396000},{"g":"e","o":5,"d":"2021-06-27","v":480000},{"g":"f","o":1,"d":"2021-04-28","v":589000},{"g":"f","o":2,"d":"2021-04-28","v":518000},{"g":"f","o":3,"d":"2021-04-03","v":492000}]
},
"encoding":{"x":{"field":"d","type":"temporal","title":null,"scale":{"type":"utc","domain":[{"year":2020,"month":8,"date":14,"utc":true},{"year":2023,"month":9,"date":10,"utc":true}]},"axis":{"orient":"bottom","values":[{"year":2020,"month":10,"date":1,"utc":true},{"year":2021,"month":1,"date":1,"utc":true},{"year":2021,"month":4,"date":1,"utc":true},{"year":2021,"month":7,"date":1,"utc":true},{"year":2021,"month":10,"date":1,"utc":true},{"year":2022,"month":1,"date":1,"utc":true},{"year":2022,"month":4,"date":1,"utc":true},{"year":2022,"month":7,"date":1,"utc":true},{"year":2022,"month":10,"date":1,"utc":true},{"year":2023,"month":1,"date":1,"utc":true},{"year":2023,"month":4,"date":1,"utc":true},{"year":2023,"month":7,"date":1,"utc":true}],"labelExpr":"utcFormat(datum.value,'%Y %b')","labelFontSize":27,"labelColor":"#8a8a90","labelPadding":16,"labelFlush":false,"labelOverlap":false,"tickSize":21,"tickColor":"#333438","tickWidth":2,"domainColor":"#2c2d31","domainWidth":2,"grid":false}}},
"resolve":{"scale":{"y":"independent"},"axis":{"y":"independent"}},
"layer":[
{"data":{"name":"price"},"mark":{"type":"line","color":"#3b2ab0","strokeWidth":4.5},"encoding":{"y":{"field":"p","type":"quantitative","title":"price_btc","scale":{"type":"log","domain":[5000,75000],"nice":false},"axis":{"orient":"left","values":[5000,10000,15000,20000,25000,30000,35000,40000,45000,50000,55000,60000,65000,70000,75000],"labelExpr":"(datum.value/1000)+'K'","labelFontSize":31,"labelColor":"#8a8a90","labelPadding":35,"ticks":false,"domain":false,"grid":true,"gridColor":"#222327","gridWidth":2,"titleColor":"#77777c","titleFontSize":29,"titleFontWeight":"normal","titlePadding":28}}}},
{"data":{"name":"addresses"},"mark":{"type":"area","color":"#be1e1e","opacity":0.6,"line":{"color":"#b32a2a","strokeWidth":4.5,"opacity":1}},"encoding":{"y":{"field":"s","type":"quantitative","title":"sender_receiver_address","scale":{"domain":[0,1250000],"nice":false},"axis":{"orient":"right","values":[0,250000,500000,750000,1000000,1250000],"labelExpr":"datum.value==0?'0':datum.value==1000000?'1M':datum.value==1250000?'1.2M':(datum.value/1000)+'K'","labelFontSize":27,"labelColor":"#8a8a90","labelPadding":35,"ticks":false,"domain":false,"grid":true,"gridColor":"#222327","gridWidth":2,"titleColor":"#77777c","titleFontSize":29,"titleFontWeight":"normal","titlePadding":18}}}},
{"data":{"name":"addresses"},"mark":{"type":"area","color":"#2fa816","opacity":0.5,"line":{"color":"#3a9420","strokeWidth":4.5,"opacity":1}},"encoding":{"y":{"field":"r","type":"quantitative","axis":null,"scale":{"domain":[0,1250000],"nice":false}}}},
{"data":{"name":"watermark"},"mark":{"type":"line","color":"#ffffff","opacity":0.045,"strokeWidth":38,"strokeJoin":"miter","strokeCap":"butt"},"encoding":{"y":{"field":"v","type":"quantitative","axis":null,"scale":{"domain":[0,1250000],"nice":false}},"detail":{"field":"g"},"order":{"field":"o"}}},
{"data":{"values":[{"d":"2022-07-31","v":428000,"t":"OnChainSchool"}]},"mark":{"type":"text","font":"Liberation Sans","fontWeight":"bold","fontSize":300,"color":"#ffffff","opacity":0.06,"align":"center","baseline":"alphabetic"},"encoding":{"y":{"field":"v","type":"quantitative","axis":null,"scale":{"domain":[0,1250000],"nice":false}},"text":{"field":"t"}}},
{"data":{"values":[{"d":"2023-04-20","d2":"2023-09-14","v":964000,"v2":386000}]},"mark":{"type":"rect","filled":false,"stroke":"#ff0000","strokeWidth":11,"strokeDash":[29,12]},"encoding":{"x2":{"field":"d2"},"y":{"field":"v","type":"quantitative","axis":null,"scale":{"domain":[0,1250000],"nice":false}},"y2":{"field":"v2"}}},
{"data":{"values":[{"d":"2022-11-19","v":1213000,"t":"Estos movimientos coinciden con la tendencia que"},{"d":"2022-11-19","v":1147000,"t":"compartimos unos meses atrás, en la que veíamos"},{"d":"2022-11-19","v":1082000,"t":"como el número de carteras enviando y recibiendo"},{"d":"2022-11-19","v":1016000,"t":"$BTC se ha desajustado de forma clara y sostenida"},{"d":"2022-11-19","v":951000,"t":"desde el mes de marzo."}]},"mark":{"type":"text","font":"Lato","fontSize":77,"color":"#ff0000","align":"center","baseline":"alphabetic"},"encoding":{"y":{"field":"v","type":"quantitative","axis":null,"scale":{"domain":[0,1250000],"nice":false}},"text":{"field":"t"}}},
{"data":{"values":[{"d":"2021-10-27","d2":"2022-04-03","v":1300000},{"d":"2022-11-05","d2":"2023-04-17","v":1300000}]},"mark":{"type":"rule","color":"#8f8f94","strokeWidth":3},"encoding":{"x2":{"field":"d2"},"y":{"field":"v","type":"quantitative","axis":null,"scale":{"domain":[0,1250000],"nice":false}}}},
{"data":{"values":[{"d":"2023-10-22","v":-95000,"t":"CryptoQuant"}]},"mark":{"type":"text","font":"Lato","fontWeight":500,"fontSize":71,"color":"#f7f7f9","align":"right","baseline":"alphabetic"},"encoding":{"y":{"field":"v","type":"quantitative","axis":null,"scale":{"domain":[0,1250000],"nice":false}},"text":{"field":"t"}}},
{"data":{"values":[{"d":"2023-10-22","v":-129000,"t":"© CryptoQuant All rights reserved."}]},"mark":{"type":"text","font":"Liberation Sans","fontSize":26.5,"color":"#7d7d82","align":"right","baseline":"alphabetic"},"encoding":{"y":{"field":"v","type":"quantitative","axis":null,"scale":{"domain":[0,1250000],"nice":false}},"text":{"field":"t"}}},
{"data":{"values":[{"d":"2023-05-18","v":-78000}]},"mark":{"type":"point","filled":true,"opacity":1,"color":"#f7f7f9","size":2500,"shape":"M0,-1A1,1 0 0 0 0,1Z"},"encoding":{"y":{"field":"v","type":"quantitative","axis":null,"scale":{"domain":[0,1250000],"nice":false}}}},
{"data":{"values":[{"d":"2023-05-28","v":-78000}]},"mark":{"type":"point","filled":true,"opacity":1,"color":"#f7f7f9","size":2500,"shape":"M0,-1A1,1 0 0 1 0.98,0.2L0.2,0.2L0.6,0.8A1,1 0 1 1 0,-1Z"},"encoding":{"y":{"field":"v","type":"quantitative","axis":null,"scale":{"domain":[0,1250000],"nice":false}}}},
{"data":{"values":[{"d":"2021-01-01","v":0,"series":"price_btc"},{"d":"2021-01-01","v":0,"series":"sender_address_total"},{"d":"2021-01-01","v":0,"series":"sender_address_total EMA(7)"},{"d":"2021-01-01","v":0,"series":"receiver_address_total"},{"d":"2021-01-01","v":0,"series":"receiver_address_total EMA(7)"}]},"mark":{"type":"point","filled":true,"opacity":0},"encoding":{"y":{"field":"v","type":"quantitative","axis":null,"scale":{"domain":[0,1250000],"nice":false}},
"color":{"field":"series","type":"nominal","scale":{"domain":["price_btc","sender_address_total","sender_address_total EMA(7)","receiver_address_total","receiver_address_total EMA(7)"],"range":["#3b2ab0","#a62828","#8a8a8f","#2f7f1d","#8a8a8f"]},"legend":{"title":null,"orient":"none","legendX":461,"legendY":-120,"direction":"horizontal","columns":5,"columnPadding":53,"symbolSize":7225,"symbolOpacity":1,"symbolStrokeWidth":0,"labelFont":"Liberation Sans","labelFontSize":36.8,"labelOffset":12,"labelLimit":700,"labelColor":{"expr":"indexof(datum.value,'EMA')>=0?'#77777b':'#ffffff'"}}},
"shape":{"field":"series","type":"nominal","scale":{"domain":["price_btc","sender_address_total","sender_address_total EMA(7)","receiver_address_total","receiver_address_total EMA(7)"],"range":["M-1,-0.05H1V0.05H-1Z","M-0.42,0A0.42,0.42 0 1 0 0.42,0A0.42,0.42 0 1 0 -0.42,0Z","M-1,-0.03H-0.92V0.03H-1ZM-0.86,-0.03H-0.78V0.03H-0.86ZM-0.72,-0.03H-0.64V0.03H-0.72ZM-0.58,-0.03H-0.5V0.03H-0.58ZM-0.44,-0.03H-0.36V0.03H-0.44ZM-0.3,-0.03H-0.22V0.03H-0.3ZM-0.16,-0.03H-0.08V0.03H-0.16ZM-0.02,-0.03H0.06V0.03H-0.02ZM0.12,-0.03H0.2V0.03H0.12ZM0.26,-0.03H0.34V0.03H0.26ZM0.4,-0.03H0.48V0.03H0.4ZM0.54,-0.03H0.62V0.03H0.54ZM0.68,-0.03H0.76V0.03H0.68ZM0.82,-0.03H0.9V0.03H0.82Z","M-0.42,0A0.42,0.42 0 1 0 0.42,0A0.42,0.42 0 1 0 -0.42,0Z","M-1,-0.03H-0.92V0.03H-1ZM-0.86,-0.03H-0.78V0.03H-0.86ZM-0.72,-0.03H-0.64V0.03H-0.72ZM-0.58,-0.03H-0.5V0.03H-0.58ZM-0.44,-0.03H-0.36V0.03H-0.44ZM-0.3,-0.03H-0.22V0.03H-0.3ZM-0.16,-0.03H-0.08V0.03H-0.16ZM-0.02,-0.03H0.06V0.03H-0.02ZM0.12,-0.03H0.2V0.03H0.12ZM0.26,-0.03H0.34V0.03H0.26ZM0.4,-0.03H0.48V0.03H0.4ZM0.54,-0.03H0.62V0.03H0.54ZM0.68,-0.03H0.76V0.03H0.68ZM0.82,-0.03H0.9V0.03H0.82Z"]},"legend":null}}}
]}
